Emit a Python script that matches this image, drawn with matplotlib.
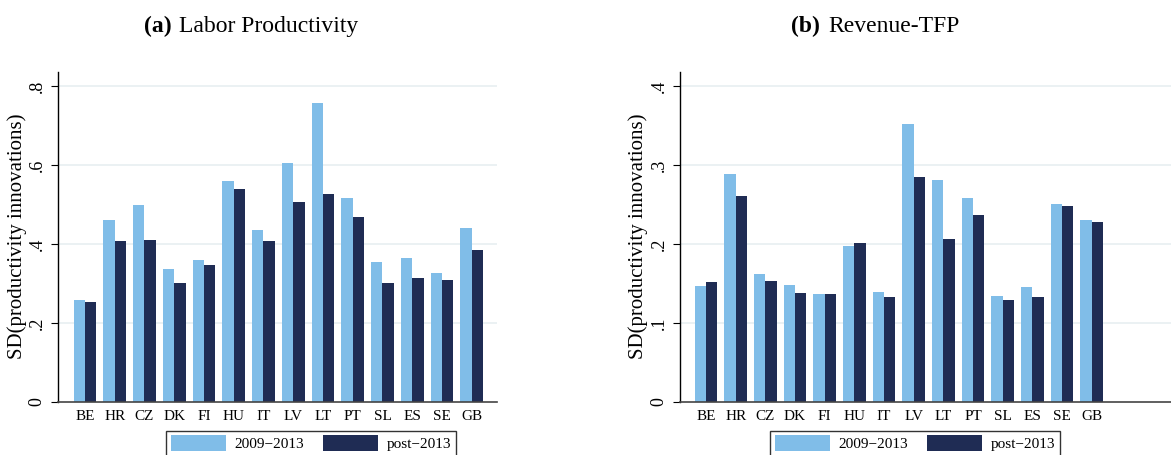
import matplotlib
matplotlib.use("Agg")
import matplotlib.pyplot as plt
import numpy as np
from matplotlib.patches import Patch

countries = ["BE", "HR", "CZ", "DK", "FI", "HU", "IT", "LV", "LT", "PT", "SL", "ES", "SE", "GB"]

lp_2009_2013 = [0.258, 0.461, 0.499, 0.337, 0.359, 0.560, 0.436, 0.605, 0.758, 0.517, 0.354, 0.364, 0.326, 0.441]
lp_post_2013 = [0.253, 0.408, 0.410, 0.301, 0.347, 0.540, 0.408, 0.507, 0.527, 0.468, 0.301, 0.314, 0.309, 0.385]

tfp_2009_2013 = [0.147, 0.289, 0.162, 0.148, 0.137, 0.197, 0.139, 0.352, 0.281, 0.258, 0.134, 0.145, 0.251, 0.230]
tfp_post_2013 = [0.152, 0.261, 0.153, 0.138, 0.137, 0.201, 0.133, 0.285, 0.206, 0.237, 0.129, 0.133, 0.248, 0.228]

lp_ticks = [0, 0.2, 0.4, 0.6, 0.8]
lp_ticklabels = ["0", ".2", ".4", ".6", ".8"]
tfp_ticks = [0, 0.1, 0.2, 0.3, 0.4]
tfp_ticklabels = ["0", ".1", ".2", ".3", ".4"]

series_labels = ["2009\u22122013", "post\u22122013"]
ylabel = "SD(productivity innovations)"

LIGHT = "#80bde8"
DARK = "#1f2c54"
GRID = "#e6eef0"

plt.rcParams["font.family"] = ["Liberation Serif", "DejaVu Serif"]

W, H = 1171, 455
fig = plt.figure(figsize=(W / 100, H / 100), dpi=100)


def px_axes(x0, x1, ybot, ytop):
    return fig.add_axes([x0 / W, (H - ybot) / H, (x1 - x0) / W, (ybot - ytop) / H])


def draw_panel(ax, v1, v2, ticks, ticklabels, ylim_top, xlim, label_x):
    x = np.arange(len(countries))
    w = 0.38
    ax.bar(x - w / 2, v1, width=w, color=LIGHT, zorder=2, linewidth=0)
    ax.bar(x + w / 2, v2, width=w, color=DARK, zorder=2, linewidth=0)
    ax.set_xlim(*xlim)
    ax.set_ylim(0, ylim_top)
    ax.set_yticks(ticks)
    ax.set_yticklabels(ticklabels, rotation=90, va="center", fontsize=13)
    ax.set_xticks(x)
    ax.set_xticklabels(countries, fontsize=11)
    ax.tick_params(axis="x", length=0, pad=6)
    ax.tick_params(axis="y", length=5, width=0.8, pad=4)
    for t in ticks[1:]:
        ax.axhline(t, color=GRID, lw=1.1, zorder=1)
    for s in ["top", "right"]:
        ax.spines[s].set_visible(False)
    ax.spines["left"].set_linewidth(1.0)
    ax.spines["bottom"].set_linewidth(1.2)
    ax.spines["bottom"].set_color("#444444")
    ax.set_ylabel(ylabel, fontsize=15)
    ax.yaxis.set_label_coords(label_x, 0.5)


ax1 = px_axes(58.3, 497, 401.7, 71.7)
draw_panel(ax1, lp_2009_2013, lp_post_2013, lp_ticks, lp_ticklabels, 0.837, (-0.897, 13.85),
           (27 - 58.3) / (497 - 58.3))

ax2 = px_axes(680, 1171, 401.7, 71.7)
draw_panel(ax2, tfp_2009_2013, tfp_post_2013, tfp_ticks, tfp_ticklabels, 0.4185, (-0.876, 15.67),
           (648 - 680) / (1171 - 680))

# titles
yb = 1 - 32 / H
fig.text(172 / W, yb, "(a)", fontsize=17, fontweight="bold", ha="right", va="baseline")
fig.text(179 / W, yb, "Labor Productivity", fontsize=17, ha="left", va="baseline")
fig.text(820 / W, yb, "(b)", fontsize=17, fontweight="bold", ha="right", va="baseline")
fig.text(828 / W, yb, "Revenue-TFP", fontsize=17, ha="left", va="baseline")

handles = [Patch(facecolor=LIGHT, edgecolor="none"), Patch(facecolor=DARK, edgecolor="none")]


def add_legend(xleft):
    leg = fig.legend(handles, series_labels, loc="upper left",
                     bbox_to_anchor=(xleft / W, 1 - 430.7 / H),
                     ncol=2, fontsize=11, frameon=True, fancybox=False,
                     edgecolor="black", handlelength=3.6, handleheight=1.25,
                     columnspacing=1.3, handletextpad=0.55, borderpad=0.3,
                     borderaxespad=0.0)
    leg.get_frame().set_linewidth(1.0)
    return leg


add_legend(166)
add_legend(770)

fig.savefig("out.png", dpi=100)
